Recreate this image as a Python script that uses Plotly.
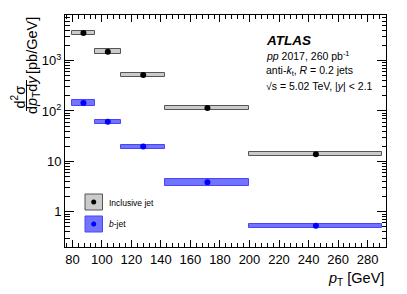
import plotly.graph_objects as go

# ---- data ----
bin_edges = [80, 95, 113, 143, 200, 290]
incl_vals = [3520, 1500, 515, 114, 13.8]
incl_err = [0.11, 0.12, 0.11, 0.10, 0.10]
bjet_vals = [143, 60.7, 19.6, 3.84, 0.53]
bjet_err = [0.14, 0.11, 0.10, 0.17, 0.10]
x_ticks = [80, 100, 120, 140, 160, 180, 200, 220, 240, 260, 280]
y_tickvals = [1, 10, 100, 1000]
y_ticktext = ["1", "10", "10<sup>2</sup>", "10<sup>3</sup>"]

centers = [(a + b) / 2 for a, b in zip(bin_edges[:-1], bin_edges[1:])]
widths = [b - a for a, b in zip(bin_edges[:-1], bin_edges[1:])]

FONT = "Liberation Sans"
fig = go.Figure()


def add_series(vals, errs, fill, line, mcol):
    lo = [v / (1 + e) for v, e in zip(vals, errs)]
    hi = [v * (1 + e) for v, e in zip(vals, errs)]
    fig.add_trace(go.Bar(x=centers, width=widths, base=lo,
                         y=[h - l for h, l in zip(hi, lo)],
                         marker=dict(color=fill, line=dict(color=line, width=1)),
                         showlegend=False, hoverinfo="skip"))
    fig.add_trace(go.Scatter(x=centers, y=vals, mode="markers",
                             marker=dict(color=mcol, size=6),
                             showlegend=False))


add_series(incl_vals, incl_err, "#cbcbcb", "#555555", "black")
add_series(bjet_vals, bjet_err, "rgba(90,90,255,0.85)", "rgba(70,70,255,1)", "#0000ff")

minor_y = [m * 10 ** d for d in range(-1, 4) for m in range(2, 10)]
minor_y = [v for v in minor_y if 0.2 <= v <= 8000]

# page body has an 8px margin: figure occupies page pixels 8..407 x 8..294
OFF = 8
W, H = 407 - OFF, 294 - OFF
PL, PR, PT, PB = 65, 386, 15, 247  # plot area in page pixels

fig.update_layout(
    width=W, height=H,
    margin=dict(l=PL - OFF, r=407 - PR, t=PT - OFF, b=294 - PB),
    paper_bgcolor="white", plot_bgcolor="white",
    font=dict(family=FONT, color="black", size=13),
    barmode="overlay", bargap=0,
    xaxis=dict(range=[75, 292.5], tickvals=x_ticks, ticks="inside", ticklen=7,
               tickcolor="black", showgrid=False, zeroline=False, showline=True,
               linecolor="black", linewidth=1, mirror="allticks",
               tickfont=dict(size=13),
               minor=dict(dtick=4, ticks="inside", ticklen=4, tickcolor="black", showgrid=False)),
    yaxis=dict(type="log", range=[-0.699, 3.903], tickvals=y_tickvals, ticktext=y_ticktext,
               ticks="inside", ticklen=9, tickcolor="black", showgrid=False, zeroline=False,
               showline=True, linecolor="black", linewidth=1, mirror="allticks",
               tickfont=dict(size=13),
               minor=dict(tickvals=minor_y, ticks="inside", ticklen=4.5, tickcolor="black", showgrid=False)),
)


def px(xp):
    return (xp - PL) / float(PR - PL)


def py(yp):
    return (PB - yp) / float(PB - PT)


ann = []
ann.append(dict(x=px(264), y=py(41), text="<b><i>ATLAS</i></b>", font=dict(size=13.5)))
ann.append(dict(x=px(264), y=py(55), text="<i>pp</i> 2017, 260 pb<sup>-1</sup>", font=dict(size=10.5)))
ann.append(dict(x=px(264), y=py(71), text="anti-<i>k</i><sub>t</sub>, <i>R</i> = 0.2 jets", font=dict(size=10.5)))
ann.append(dict(x=px(264), y=py(86), text="√s = 5.02 TeV, |<i>y</i>| &lt; 2.1", font=dict(size=10.5)))
ann.append(dict(x=px(107), y=py(203), text="Inclusive jet", font=dict(size=8.5)))
ann.append(dict(x=px(107), y=py(224), text="<i>b</i>-jet", font=dict(size=8.5)))
for a in ann:
    a.update(xref="paper", yref="paper", xanchor="left", yanchor="middle", showarrow=False)

# x title
ann.append(dict(xref="paper", yref="paper", x=1.0, y=py(279), xanchor="right", yanchor="middle",
                showarrow=False, text="<i>p</i><sub>T</sub> [GeV]", font=dict(size=14.5)))
# y title (rotated pieces)
ann.append(dict(xref="paper", yref="paper", x=px(18.5), y=py(97), xanchor="center", yanchor="middle",
                textangle=-90, showarrow=False, text="d<sup>2</sup>σ", font=dict(size=14.5)))
ann.append(dict(xref="paper", yref="paper", x=px(33), y=py(95), xanchor="center", yanchor="middle",
                textangle=-90, showarrow=False, text="d<i>p</i><sub>T</sub>d<i>y</i>", font=dict(size=14.5)))
ann.append(dict(xref="paper", yref="paper", x=px(32), y=py(46), xanchor="center", yanchor="middle",
                textangle=-90, showarrow=False, text="[pb/GeV]", font=dict(size=14.5)))
fig.update_layout(annotations=ann)

shapes = [
    dict(type="line", xref="paper", yref="paper", x0=px(26.5), x1=px(26.5), y0=py(80), y1=py(111),
         line=dict(color="black", width=1)),
    dict(type="rect", xref="paper", yref="paper", x0=px(85), x1=px(102.5), y0=py(210), y1=py(194),
         fillcolor="#cbcbcb", line=dict(color="#555555", width=1)),
    dict(type="rect", xref="paper", yref="paper", x0=px(85), x1=px(102.5), y0=py(232), y1=py(216),
         fillcolor="rgba(90,90,255,0.85)", line=dict(color="rgba(70,70,255,1)", width=1)),
    dict(type="circle", xref="paper", yref="paper", x0=px(91.2), x1=px(96.2), y0=py(204.5), y1=py(199.5),
         fillcolor="black", line=dict(color="black", width=0)),
    dict(type="circle", xref="paper", yref="paper", x0=px(91.2), x1=px(96.2), y0=py(226.5), y1=py(221.5),
         fillcolor="#0000ff", line=dict(color="#0000ff", width=0)),
]
fig.update_layout(shapes=shapes)

fig.write_html("out.html")
